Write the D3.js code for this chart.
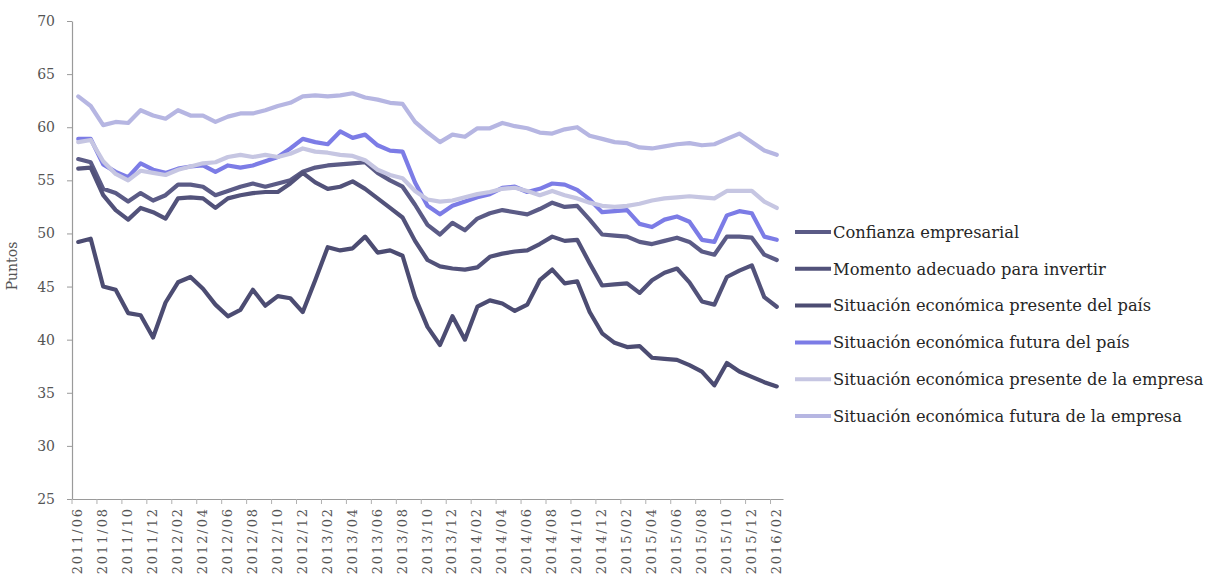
<!DOCTYPE html>
<html>
<head>
<meta charset="utf-8">
<script src="https://cdn.jsdelivr.net/npm/d3@7"></script>
<style>
  html, body { margin: 0; padding: 0; background: #ffffff; }
  svg { display: block; }
</style>
</head>
<body>
<svg id="chart" width="1221" height="582"></svg>
<script>
// Monthly categories, 2011/06 .. 2016/02
const months = [
  "2011/06","2011/07","2011/08","2011/09","2011/10","2011/11","2011/12",
  "2012/01","2012/02","2012/03","2012/04","2012/05","2012/06","2012/07","2012/08","2012/09","2012/10","2012/11","2012/12",
  "2013/01","2013/02","2013/03","2013/04","2013/05","2013/06","2013/07","2013/08","2013/09","2013/10","2013/11","2013/12",
  "2014/01","2014/02","2014/03","2014/04","2014/05","2014/06","2014/07","2014/08","2014/09","2014/10","2014/11","2014/12",
  "2015/01","2015/02","2015/03","2015/04","2015/05","2015/06","2015/07","2015/08","2015/09","2015/10","2015/11","2015/12",
  "2016/01","2016/02"
];

// Every other month is labelled on the axis
const tickLabels = months.filter((m, i) => i % 2 === 0);

const yTicks = [25, 30, 35, 40, 45, 50, 55, 60, 65, 70];

const seriesNames = [
  "Confianza empresarial",
  "Momento adecuado para invertir",
  "Situación económica presente del país",
  "Situación económica futura del país",
  "Situación económica presente de la empresa",
  "Situación económica futura de la empresa"
];

const confianza = [57.0,56.7,54.2,53.8,53.0,53.8,53.1,53.6,54.6,54.6,
  54.4,53.6,54.0,54.4,54.7,54.4,54.7,55.0,55.8,56.2,
  56.4,56.5,56.6,56.7,55.7,55.0,54.4,52.7,50.8,49.9,
  51.0,50.3,51.4,51.9,52.2,52.0,51.8,52.3,52.9,52.5,
  52.6,51.3,49.9,49.8,49.7,49.2,49.0,49.3,49.6,49.2,
  48.3,48.0,49.7,49.7,49.6,48.0,47.5];

const momento = [56.1,56.2,53.6,52.2,51.3,52.4,52.0,51.4,53.3,53.4,
  53.3,52.4,53.3,53.6,53.8,53.9,53.9,54.7,55.7,54.8,
  54.2,54.4,54.9,54.2,53.3,52.4,51.5,49.3,47.5,46.9,
  46.7,46.6,46.8,47.8,48.1,48.3,48.4,49.0,49.7,49.3,
  49.4,47.2,45.1,45.2,45.3,44.4,45.6,46.3,46.7,45.4,
  43.6,43.3,45.9,46.5,47.0,44.0,43.1];

const presentePais = [49.2,49.5,45.0,44.7,42.5,42.3,40.2,43.5,45.4,45.9,
  44.8,43.3,42.2,42.8,44.7,43.2,44.1,43.9,42.6,45.6,
  48.7,48.4,48.6,49.7,48.2,48.4,47.9,44.0,41.2,39.5,
  42.2,40.0,43.1,43.7,43.4,42.7,43.3,45.6,46.6,45.3,
  45.5,42.6,40.6,39.7,39.3,39.4,38.3,38.2,38.1,37.6,
  37.0,35.7,37.8,37.0,36.5,36.0,35.6];

const futuraPais = [58.9,58.9,56.5,55.8,55.3,56.6,56.0,55.7,56.1,56.3,
  56.4,55.8,56.4,56.2,56.4,56.8,57.2,58.0,58.9,58.6,
  58.4,59.6,59.0,59.3,58.3,57.8,57.7,54.8,52.6,51.8,
  52.6,53.0,53.4,53.7,54.3,54.4,53.9,54.2,54.7,54.6,
  54.1,53.2,52.0,52.1,52.2,50.9,50.6,51.3,51.6,51.1,
  49.4,49.2,51.7,52.1,51.9,49.7,49.4];

const presenteEmpresa = [58.6,58.8,56.8,55.6,55.0,55.9,55.7,55.5,56.0,56.3,
  56.6,56.7,57.2,57.4,57.2,57.4,57.2,57.5,58.0,57.7,
  57.6,57.4,57.3,56.9,56.0,55.5,55.2,54.0,53.2,53.0,
  53.1,53.4,53.7,53.9,54.2,54.3,54.0,53.6,54.0,53.6,
  53.3,52.9,52.6,52.5,52.6,52.8,53.1,53.3,53.4,53.5,
  53.4,53.3,54.0,54.0,54.0,53.0,52.4];

const futuraEmpresa = [62.9,62.0,60.2,60.5,60.4,61.6,61.1,60.8,61.6,61.1,
  61.1,60.5,61.0,61.3,61.3,61.6,62.0,62.3,62.9,63.0,
  62.9,63.0,63.2,62.8,62.6,62.3,62.2,60.5,59.5,58.6,
  59.3,59.1,59.9,59.9,60.4,60.1,59.9,59.5,59.4,59.8,
  60.0,59.2,58.9,58.6,58.5,58.1,58.0,58.2,58.4,58.5,
  58.3,58.4,58.9,59.4,58.6,57.8,57.4];

const seriesValues = [confianza, momento, presentePais, futuraPais, presenteEmpresa, futuraEmpresa];
const seriesColors = ["#5b5b86", "#52527a", "#4c4c72", "#7c7ce6", "#c6c6e2", "#b6b6e2"];

const svg = d3.select("#chart");
const plot = { left: 72, right: 783, top: 21, bottom: 499 };
const serif = "'DejaVu Serif', 'Liberation Serif', serif";

const x = d3.scaleBand().domain(months).range([plot.left, plot.right]).paddingInner(0).paddingOuter(0);
const y = d3.scaleLinear().domain([25, 70]).range([plot.bottom, plot.top]);
const cx = d => x(d) + x.bandwidth() / 2;

// Y axis
const yAxis = svg.append("g")
  .attr("transform", `translate(${plot.left},0)`)
  .call(d3.axisLeft(y).tickValues(yTicks).tickSize(5).tickSizeOuter(0).tickPadding(12));
yAxis.select(".domain").attr("stroke", "#9a9a9a").attr("stroke-width", 1.2);
yAxis.selectAll(".tick line").attr("stroke", "#9a9a9a");
yAxis.selectAll(".tick text")
  .attr("font-family", serif).attr("font-size", 14).attr("fill", "#555");

// X axis: labels every second month, tick marks on category boundaries
const xAxis = svg.append("g")
  .attr("transform", `translate(0,${plot.bottom})`)
  .call(d3.axisBottom(x).tickValues(tickLabels).tickSize(0).tickSizeOuter(0));
xAxis.select(".domain").attr("stroke", "#9a9a9a").attr("stroke-width", 1.2);
xAxis.selectAll(".tick text")
  .attr("font-family", serif).attr("font-size", 13).attr("fill", "#555")
  .attr("letter-spacing", 1.9)
  .attr("transform", "rotate(-90)")
  .attr("text-anchor", "end")
  .attr("x", -8).attr("y", 4)
  .attr("dx", null).attr("dy", null);

svg.append("g").selectAll("line")
  .data(tickLabels)
  .join("line")
  .attr("x1", d => x(d)).attr("x2", d => x(d))
  .attr("y1", plot.bottom).attr("y2", plot.bottom + 5)
  .attr("stroke", "#b0b0b0");

// Y axis title
svg.append("text")
  .attr("transform", `translate(17,${(plot.top + plot.bottom) / 2 + 6}) rotate(-90)`)
  .attr("text-anchor", "middle")
  .attr("font-family", serif).attr("font-size", 14).attr("fill", "#555")
  .text("Puntos");

// Series lines
const line = d3.line()
  .x((v, i) => cx(months[i]))
  .y(v => y(v))
  .curve(d3.curveLinear);

svg.append("g").selectAll("path")
  .data(seriesValues)
  .join("path")
  .attr("d", d => line(d))
  .attr("fill", "none")
  .attr("stroke", (d, i) => seriesColors[i])
  .attr("stroke-width", 4.2)
  .attr("stroke-linejoin", "round")
  .attr("stroke-linecap", "round");

// Legend
const legend = svg.append("g").attr("transform", "translate(795,232)");
const rows = legend.selectAll("g")
  .data(seriesNames)
  .join("g")
  .attr("transform", (d, i) => `translate(0,${i * 36.8})`);
rows.append("line")
  .attr("x1", 0).attr("x2", 36).attr("y1", 0).attr("y2", 0)
  .attr("stroke", (d, i) => seriesColors[i]).attr("stroke-width", 4);
rows.append("text")
  .attr("x", 38).attr("y", 0).attr("dy", "0.35em")
  .attr("font-family", serif).attr("font-size", 16.3).attr("fill", "#262626")
  .text(d => d);
</script>
</body>
</html>
